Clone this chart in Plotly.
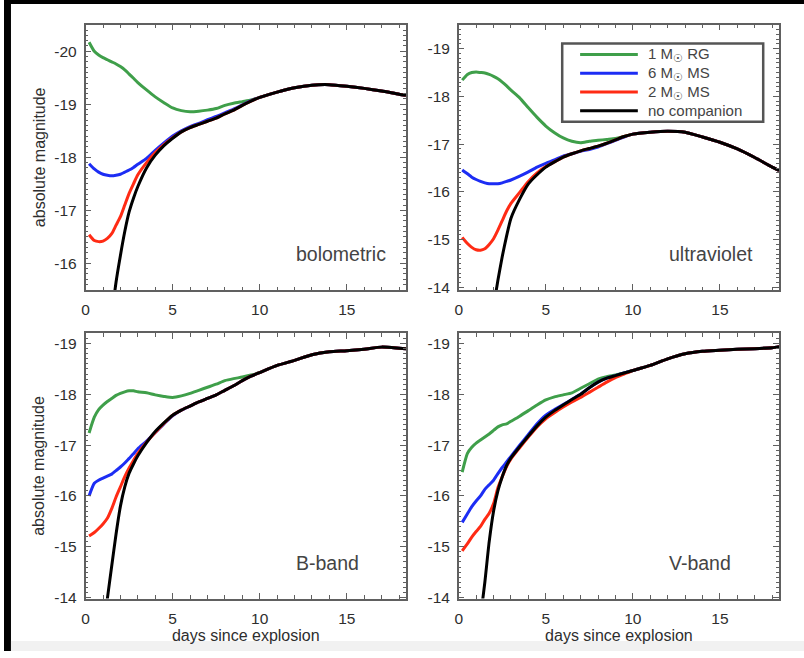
import plotly.graph_objects as go

# ---------------- data ----------------
DAYS = [0.2, 0.5, 0.75, 1.0, 1.25, 1.5, 1.75, 2.0, 2.25, 2.5, 2.75, 3.0, 3.5, 4.0, 4.5,
        5.0, 5.5, 6.0, 6.5, 7.0, 7.5, 8.0, 8.5, 9.0, 9.5, 10, 11, 12, 13, 14, 15, 16, 17, 18, 18.4]

SERIES_NAMES = ["1 M<sub>☉</sub> RG", "6 M<sub>☉</sub> MS", "2 M<sub>☉</sub> MS", "no companion"]
SERIES_COLORS = ["#3f9f4a", "#1c2df4", "#ff2b14", "#000000"]

# bolometric
bol_rg = [-20.17, -20.0, -19.93, -19.88, -19.84, -19.8, -19.76, -19.71, -19.65, -19.57,
          -19.49, -19.41, -19.27, -19.14, -19.03, -18.93, -18.88, -18.86, -18.87, -18.89,
          -18.92, -18.98, -19.02, -19.05, -19.08, -19.13, -19.23, -19.31, -19.36, -19.37,
          -19.34, -19.30, -19.25, -19.19, -19.17]
bol_ms6 = [-17.88, -17.78, -17.72, -17.68, -17.66, -17.65, -17.66, -17.68, -17.72, -17.76,
           -17.81, -17.87, -17.98, -18.13, -18.27, -18.4, -18.5, -18.58, -18.64, -18.71,
           -18.77, -18.84, -18.91, -18.99, -19.07, -19.13, -19.23, -19.31, -19.36, -19.37,
           -19.34, -19.30, -19.25, -19.19, -19.17]
bol_ms2 = [-16.54, -16.43, -16.41, -16.42, -16.47, -16.56, -16.72, -16.88, -17.1, -17.32,
           -17.5, -17.67, -17.9, -18.09, -18.24, -18.37, -18.48, -18.56, -18.62, -18.68,
           -18.74, -18.82, -18.89, -18.98, -19.06, -19.13, -19.23, -19.31, -19.36, -19.37,
           -19.34, -19.30, -19.25, -19.19, -19.17]
bol_none = [None, None, None, None, None, -15.0, -15.65, -16.15, -16.6, -16.97,
            -17.23, -17.45, -17.8, -18.04, -18.22, -18.36, -18.48, -18.56, -18.62, -18.68,
            -18.74, -18.82, -18.89, -18.98, -19.06, -19.13, -19.23, -19.31, -19.36, -19.37,
            -19.34, -19.30, -19.25, -19.19, -19.17]

# ultraviolet
uv_rg = [-18.34, -18.46, -18.5, -18.51, -18.5, -18.49, -18.46, -18.42, -18.37, -18.3,
         -18.22, -18.13, -17.97, -17.76, -17.56, -17.38, -17.24, -17.13, -17.06, -17.03,
         -17.06, -17.08, -17.1, -17.12, -17.16, -17.21, -17.25, -17.27, -17.25, -17.15,
         -17.04, -16.9, -16.72, -16.52, -16.45]
uv_ms6 = [-16.46, -16.38, -16.31, -16.26, -16.22, -16.19, -16.17, -16.17, -16.17, -16.19,
          -16.22, -16.25, -16.33, -16.42, -16.52, -16.6, -16.67, -16.75, -16.8, -16.85,
          -16.89, -16.94, -17.01, -17.08, -17.15, -17.21, -17.25, -17.27, -17.25, -17.15,
          -17.04, -16.9, -16.72, -16.52, -16.45]
uv_ms2 = [-15.05, -14.92, -14.84, -14.79, -14.78, -14.81, -14.9, -15.02, -15.2, -15.4,
          -15.6, -15.76, -15.99, -16.22, -16.4, -16.53, -16.63, -16.73, -16.8, -16.86,
          -16.91, -16.96, -17.02, -17.09, -17.16, -17.21, -17.25, -17.27, -17.25, -17.15,
          -17.04, -16.9, -16.72, -16.52, -16.45]
uv_none = [None, None, None, None, None, None, None, -13.6, -14.15, -14.65,
           -15.08, -15.45, -15.85, -16.17, -16.36, -16.52, -16.63, -16.73, -16.8, -16.86,
           -16.91, -16.96, -17.02, -17.09, -17.16, -17.21, -17.25, -17.27, -17.25, -17.15,
           -17.04, -16.9, -16.72, -16.52, -16.45]

# B-band
b_rg = [-17.24, -17.55, -17.7, -17.79, -17.86, -17.92, -17.98, -18.02, -18.05, -18.07,
        -18.07, -18.05, -18.03, -17.99, -17.96, -17.94, -17.97, -18.02, -18.08, -18.14,
        -18.2, -18.27, -18.31, -18.34, -18.38, -18.43, -18.57, -18.67, -18.78, -18.84,
        -18.86, -18.89, -18.93, -18.91, -18.9]
b_ms6 = [-16.0, -16.25, -16.31, -16.35, -16.39, -16.43, -16.5, -16.57, -16.65, -16.74,
         -16.83, -16.93, -17.08, -17.25, -17.42, -17.58, -17.69, -17.77, -17.85, -17.92,
         -17.99, -18.08, -18.17, -18.27, -18.36, -18.43, -18.57, -18.67, -18.78, -18.84,
         -18.86, -18.89, -18.93, -18.91, -18.9]
b_ms2 = [-15.21, -15.28, -15.36, -15.45, -15.56, -15.75, -15.98, -16.18, -16.38, -16.55,
         -16.7, -16.84, -17.06, -17.25, -17.43, -17.59, -17.69, -17.77, -17.85, -17.92,
         -17.99, -18.08, -18.17, -18.27, -18.36, -18.43, -18.57, -18.67, -18.78, -18.84,
         -18.86, -18.89, -18.93, -18.91, -18.9]
b_none = [None, None, None, -13.3, -13.98, -14.62, -15.25, -15.8, -16.18, -16.45,
          -16.63, -16.79, -17.05, -17.27, -17.44, -17.59, -17.69, -17.77, -17.85, -17.92,
          -17.99, -18.08, -18.17, -18.27, -18.36, -18.43, -18.57, -18.67, -18.78, -18.84,
          -18.86, -18.89, -18.93, -18.91, -18.9]

# V-band
v_rg = [-16.47, -16.84, -16.96, -17.04, -17.1, -17.16, -17.22, -17.29, -17.36, -17.4,
        -17.42, -17.47, -17.57, -17.68, -17.79, -17.89, -17.95, -17.99, -18.03, -18.12,
        -18.21, -18.3, -18.35, -18.38, -18.42, -18.47, -18.57, -18.7, -18.8, -18.85,
        -18.87, -18.89, -18.9, -18.92, -18.94]
v_ms6 = [-15.48, -15.65, -15.79, -15.9, -16.0, -16.13, -16.22, -16.31, -16.44, -16.56,
         -16.67, -16.78, -17.0, -17.21, -17.42, -17.59, -17.7, -17.8, -17.9, -18.0,
         -18.13, -18.24, -18.32, -18.37, -18.42, -18.47, -18.57, -18.7, -18.8, -18.85,
         -18.87, -18.89, -18.9, -18.92, -18.94]
v_ms2 = [-14.92, -15.06, -15.19, -15.3, -15.4, -15.54, -15.66, -15.85, -16.16, -16.38,
         -16.58, -16.73, -16.95, -17.16, -17.36, -17.52, -17.64, -17.75, -17.85, -17.94,
         -18.04, -18.14, -18.24, -18.33, -18.4, -18.47, -18.57, -18.7, -18.8, -18.85,
         -18.87, -18.89, -18.9, -18.92, -18.94]
v_none = [None, None, None, None, -13.6, -14.3, -15.1, -15.7, -16.1, -16.38,
          -16.6, -16.75, -16.97, -17.18, -17.38, -17.55, -17.68, -17.79, -17.9, -18.0,
          -18.13, -18.24, -18.32, -18.37, -18.42, -18.47, -18.57, -18.7, -18.8, -18.85,
          -18.87, -18.89, -18.9, -18.92, -18.94]

PANEL_LABELS = ["bolometric", "ultraviolet", "B-band", "V-band"]
PANEL_DATA = [
    [bol_rg, bol_ms6, bol_ms2, bol_none],
    [uv_rg, uv_ms6, uv_ms2, uv_none],
    [b_rg, b_ms6, b_ms2, b_none],
    [v_rg, v_ms6, v_ms2, v_none],
]
Y_RANGES = [[-15.5, -20.5], [-13.95, -19.5], [-13.98, -19.2], [-13.98, -19.2]]
Y_TICKS = [[-20, -19, -18, -17, -16],
           [-19, -18, -17, -16, -15, -14],
           [-19, -18, -17, -16, -15, -14],
           [-19, -18, -17, -16, -15, -14]]
X_RANGE = [0, 18.4]
X_TICKS = [0, 5, 10, 15]
X_TITLE = "days since explosion"
Y_TITLE = "absolute magnitude"

# ---------------- layout geometry ----------------
W, H = 804, 658
px_x = lambda p: p / W
px_y = lambda p: 1 - p / H
X_DOMAINS = [[px_x(82), px_x(404)], [px_x(457), px_x(779)],
             [px_x(82), px_x(404)], [px_x(457), px_x(779)]]
Y_DOMAINS = [[px_y(293), px_y(25)], [px_y(293), px_y(25)],
             [px_y(605), px_y(337)], [px_y(605), px_y(337)]]

AXCOL = "#606060"
TXTCOL = "#2e2e2e"
FONT = "Liberation Sans, Arial, Helvetica, sans-serif"

fig = go.Figure()

for i in range(4):
    xa = "x" if i == 0 else f"x{i+1}"
    ya = "y" if i == 0 else f"y{i+1}"
    for vals, name, col in zip(PANEL_DATA[i], SERIES_NAMES, SERIES_COLORS):
        fig.add_trace(go.Scatter(
            x=DAYS, y=vals, mode="lines", name=name, showlegend=False,
            line=dict(color=col, width=3, shape="spline", smoothing=0.6),
            xaxis=xa, yaxis=ya, connectgaps=False, hoverinfo="skip"))

    xkey = "xaxis" if i == 0 else f"xaxis{i+1}"
    ykey = "yaxis" if i == 0 else f"yaxis{i+1}"
    xdict = dict(
        domain=X_DOMAINS[i], anchor=ya, range=X_RANGE,
        showline=True, linecolor=AXCOL, linewidth=1.5, mirror="ticks",
        ticks="inside", ticklen=6, tickwidth=1, tickcolor=AXCOL,
        tickmode="array", tickvals=X_TICKS, ticktext=[str(t) for t in X_TICKS],
        minor=dict(dtick=1, tick0=0, ticks="inside", ticklen=3.5, tickcolor=AXCOL, tickwidth=1),
        showgrid=False, zeroline=False, ticklabelstandoff=5,
        tickfont=dict(size=15.5, color=TXTCOL, family=FONT))
    if i >= 2:
        xdict["title"] = dict(text=X_TITLE, standoff=1,
                              font=dict(size=16, color=TXTCOL, family=FONT))
    fig.layout[xkey] = xdict
    fig.layout[ykey] = dict(
        domain=Y_DOMAINS[i], anchor=xa, range=Y_RANGES[i],
        showline=True, linecolor=AXCOL, linewidth=1.5, mirror="ticks",
        ticks="inside", ticklen=6, tickwidth=1, tickcolor=AXCOL,
        tickmode="array", tickvals=Y_TICKS[i], ticktext=[str(t) for t in Y_TICKS[i]],
        minor=dict(dtick=0.1, tick0=0, ticks="inside", ticklen=3, tickcolor=AXCOL, tickwidth=1),
        showgrid=False, zeroline=False, ticklabelstandoff=4,
        tickfont=dict(size=15.5, color=TXTCOL, family=FONT))

    fig.add_annotation(text=PANEL_LABELS[i], x=11.95, xref=xa, y=0.135,
                       yref=f"{ya} domain", xanchor="left", yanchor="middle",
                       showarrow=False, font=dict(size=19.5, color="#444444", family=FONT))

# y-axis titles
for yc in [(25 + 293) / 2, (337 + 605) / 2]:
    fig.add_annotation(text=Y_TITLE, x=px_x(35), y=px_y(yc), xref="paper", yref="paper",
                       textangle=-90, showarrow=False, xanchor="center", yanchor="middle",
                       font=dict(size=16, color=TXTCOL, family=FONT))

# legend box (drawn in panel 2)
LEG_FONT = 15
LEG_TOP, LEG_BOT = 44, 123
leg_center = (LEG_TOP + LEG_BOT) / 2
spacing = 19
row_y = [leg_center + (k - 1.5) * spacing for k in range(4)]

shapes = []
shapes.append(dict(type="rect", xref="x2 domain", yref="y2 domain",
                   x0=(561 - 457) / 322, x1=(763 - 457) / 322,
                   y0=1 - (LEG_BOT - 25) / 268, y1=1 - (LEG_TOP - 25) / 268,
                   line=dict(color="#555555", width=2.5), fillcolor="white", layer="above"))
for ry, name, col in zip(row_y, SERIES_NAMES, SERIES_COLORS):
    yy = 1 - (ry - 25) / 268
    shapes.append(dict(type="line", xref="x2 domain", yref="y2 domain",
                       x0=(579 - 457) / 322, x1=(637 - 457) / 322, y0=yy, y1=yy,
                       line=dict(color=col, width=3), layer="above"))
    fig.add_annotation(text=name, x=(646 - 457) / 322, y=yy, xref="x2 domain", yref="y2 domain",
                       xanchor="left", yanchor="middle", showarrow=False, borderpad=0,
                       font=dict(size=LEG_FONT, color="#444444", family=FONT))

# slide border pieces (black strips left/top, light band bottom)
shapes.append(dict(type="rect", xref="paper", yref="paper", x0=0, x1=px_x(7), y0=0, y1=1,
                   fillcolor="black", line=dict(width=0), layer="below"))
shapes.append(dict(type="rect", xref="paper", yref="paper", x0=0, x1=1, y0=px_y(4), y1=1,
                   fillcolor="black", line=dict(width=0), layer="below"))
shapes.append(dict(type="rect", xref="paper", yref="paper", x0=px_x(7), x1=1, y0=0, y1=px_y(648),
                   fillcolor="#f1f1f1", line=dict(width=0), layer="below"))

fig.update_layout(
    width=W, height=H, margin=dict(l=0, r=0, t=0, b=0),
    paper_bgcolor="white", plot_bgcolor="rgba(0,0,0,0)",
    showlegend=False, shapes=shapes,
    font=dict(family=FONT, color=TXTCOL))

fig.write_html("out.html")
